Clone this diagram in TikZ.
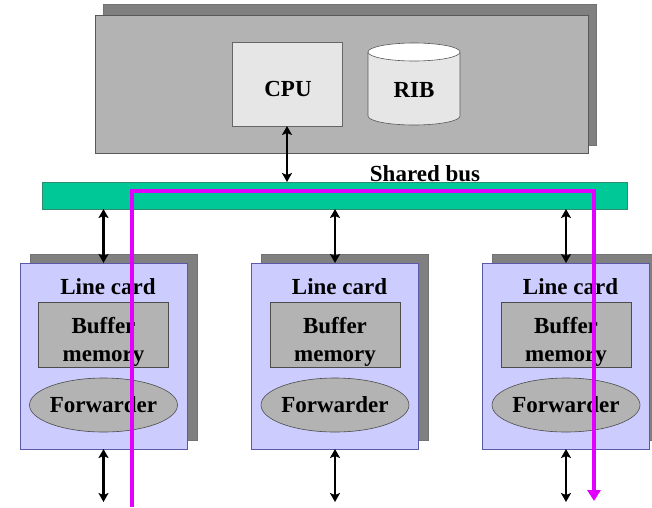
\documentclass[tikz,border=0pt]{standalone}
\usepackage{fontspec}
\setmainfont{Liberation Serif}
\usetikzlibrary{arrows.meta,calc,shapes.geometric}
\definecolor{boxgray}{HTML}{B3B3B3}
\definecolor{shadowgray}{HTML}{808080}
\definecolor{cpufill}{HTML}{E6E6E6}
\definecolor{cardfill}{HTML}{CCCCFF}
\definecolor{busgreen}{HTML}{00C896}
\definecolor{busedge}{HTML}{2E8B6E}
\definecolor{pathmag}{HTML}{E100FF}
\tikzset{
  plain/.style={inner sep=0pt, outer sep=0pt},
  shadowbox/.style={plain, fill=shadowgray, draw=shadowgray!90!black, line width=0.6pt},
  mainbox/.style={plain, fill=boxgray, draw=gray!70!black, line width=0.6pt},
  cardbox/.style={plain, fill=cardfill, draw=gray!70!blue, line width=0.6pt, minimum width=167pt, minimum height=186pt},
  cardshadow/.style={shadowbox, minimum width=167pt, minimum height=186pt},
  bufbox/.style={plain, fill=boxgray, draw=gray!60!black, line width=0.6pt, minimum width=130pt, minimum height=65pt},
  fwdell/.style={plain, ellipse, fill=boxgray, draw=gray!60!black, line width=0.6pt, minimum width=148pt, minimum height=54pt},
  lbl/.style={font=\fontsize{23}{27}\selectfont\bfseries, inner sep=0pt, align=center},
  biarrow/.style={line width=2.4pt, {Stealth[length=9pt,width=10pt,inset=2pt]}-{Stealth[length=9pt,width=10pt,inset=2pt]}},
  magpath/.style={draw=pathmag, line width=3.5pt, -{Triangle[length=11pt,width=13pt]}},
}
\begin{document}
\begin{tikzpicture}[x=1pt,y=-1pt]
\useasboundingbox (0,0) rectangle (652,507);
% top (route processor) box
\node[shadowbox, minimum width=493pt, minimum height=141pt] (topshadow) at (349.5,74.5) {};
\node[mainbox, minimum width=493pt, minimum height=138pt] (topbox) at (341.5,84) {};
\node[plain, fill=cpufill, draw=gray!80!black, line width=0.6pt, minimum width=110pt, minimum height=84pt] (cpu) at (287,84) {};
\node[lbl] (cputext) at (288,89) {CPU};
% RIB cylinder
\coordinate (ribtop) at (414,52);
\coordinate (ribbot) at (414,116);
\fill[cpufill] (368,52) -- (368,116) arc[start angle=180, end angle=360, x radius=46pt, y radius=9pt] -- (460,52) -- cycle;
\draw[gray!70!black, line width=0.6pt] (368,52) -- (368,116) arc[start angle=180, end angle=360, x radius=46pt, y radius=9pt] -- (460,52);
\draw[gray!70!black, line width=0.6pt, fill=white] (ribtop) ellipse[x radius=46pt, y radius=9pt];
\node[lbl] (rib) at (414,90) {RIB};
% shared bus
\node[plain, fill=busgreen, draw=busedge, line width=0.6pt, minimum width=585pt, minimum height=27pt] (bus) at (334.5,195.5) {};
\node[lbl] (bustext) at (425,174) {Shared bus};
\draw[biarrow] (cpu.south) -- (cpu.south |- bus.north);
% line cards
\foreach \i/\cx in {1/103.5, 2/335, 3/566} {
  \node[cardshadow] (sh\i) at (\cx+10,347) {};
  \node[cardbox] (card\i) at (\cx,356) {};
  \node[lbl] (title\i) at (\cx+4.5,287) {Line card};
  \node[bufbox] (buf\i) at (\cx,334.5) {};
  \node[lbl, font=\fontsize{23}{28}\selectfont\bfseries] (buftext\i) at (\cx,342) {Buffer\\memory};
  \node[fwdell] (fwd\i) at (\cx,405) {};
  \node[lbl] (fwdtext\i) at (fwd\i.center) {Forwarder};
  \coordinate (out\i) at (\cx,502);
  \draw[biarrow] (card\i.north |- bus.south) -- (card\i.north);
  \draw[biarrow] (card\i.south) -- (out\i);
}
% packet path
\coordinate (pin) at (132,507);
\coordinate (pturn1) at (132,191);
\coordinate (pturn2) at (594,191);
\coordinate (pout) at (594,501);
\draw[magpath] (pin) -- (pturn1) -- (pturn2) -- (pout);
\end{tikzpicture}
\end{document}
